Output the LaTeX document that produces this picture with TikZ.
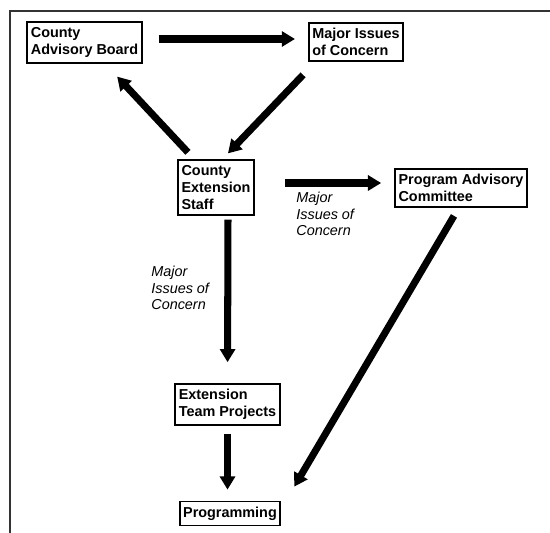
\documentclass[tikz,border=0pt]{standalone}
\usepackage{fontspec}
\setmainfont{Liberation Sans}
\usetikzlibrary{arrows.meta,positioning,calc}
\tikzset{
  % boxed stages
  unit/.style={draw,line width=1pt,align=left,inner xsep=2pt,inner ysep=3pt,
               font=\fontsize{8.2}{9.6}\selectfont\bfseries},
  % flow arrows
  flow/.style={line width=4pt,-{Triangle[length=7.5pt,width=8.5pt]}},
  % arrow labels
  note/.style={align=left,inner sep=0pt,anchor=north west,
               font=\fontsize{8.2}{9.4}\selectfont\itshape},
}
\begin{document}
\begin{tikzpicture}[x=0.02cm,y=-0.02cm]
\useasboundingbox (0,0) rectangle (550,533);
\draw[line width=1.1pt,black!80] (10,533) -- (10,11) -- (550,11);

\node[unit] (board) at (84.5,42.5) {County\\Advisory Board};
\node[unit] (issues) at (356,42) {Major Issues\\of Concern};
\node[unit] (staff) at (216,187.5) {County\\Extension\\Staff};
\node[unit] (committee) at (461,188) {Program Advisory\\Committee};
\node[unit] (team) at (227.5,404.5) {Extension\\Team Projects};
\node[unit] (prog) at (230,513.5) {Programming};

\draw[flow,shorten <=16*0.02cm,shorten >=13*0.02cm]
  ($(board.east)+(0,-3.5)$) -- ($(issues.west)+(0,-3)$);
\draw[flow,shorten <=9.6*0.02cm,shorten >=17.8*0.02cm]
  ($(staff.north)+(-21.5,0)$) -- ($(board.south)+(20.5,0)$);
\draw[flow,shorten <=18*0.02cm,shorten >=8.3*0.02cm]
  ($(issues.south)+(-40.5,0)$) -- ($(staff.north)+(6.2,0)$);
\draw[flow,shorten <=30*0.02cm,shorten >=13*0.02cm]
  ($(staff.east)+(0,-4.5)$) -- ($(committee.west)+(0,-5)$);
\draw[flow,shorten <=4*0.02cm,shorten >=21*0.02cm]
  ($(staff.south)+(12,0)$) -- (team.north);
\draw[flow,shorten <=9.3*0.02cm,shorten >=16.2*0.02cm]
  ($(committee.south)+(-2.3,0)$) -- ($(prog.north east)+(4.8,0)$);
\draw[flow,shorten <=8*0.02cm,shorten >=11*0.02cm]
  (team.south) -- (team.south |- prog.north);

\node[note] (lblright) at (296,192) {Major\\Issues of\\Concern};
\node[note] (lbldown) at (151,266) {Major\\Issues of\\Concern};
\end{tikzpicture}
\end{document}
